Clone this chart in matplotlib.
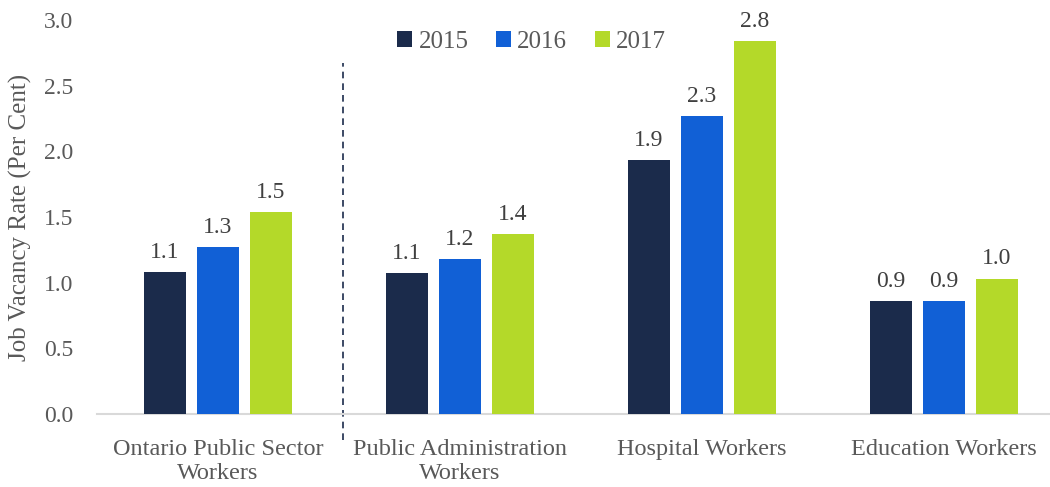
import numpy as np
import matplotlib
matplotlib.use("Agg")
import matplotlib.pyplot as plt

plt.rcParams['font.family'] = ['Liberation Serif', 'DejaVu Serif']

categories = ["Ontario Public Sector\nWorkers", "Public Administration\nWorkers",
              "Hospital Workers", "Education Workers"]
years = ["2015", "2016", "2017"]
v2015 = [1.08, 1.07, 1.93, 0.86]
v2016 = [1.27, 1.18, 2.27, 0.86]
v2017 = [1.54, 1.37, 2.84, 1.03]
labels2015 = ["1.1", "1.1", "1.9", "0.9"]
labels2016 = ["1.3", "1.2", "2.3", "0.9"]
labels2017 = ["1.5", "1.4", "2.8", "1.0"]

colors = ["#1b2b4b", "#1160d6", "#b4d929"]
grey = "#595959"

fig = plt.figure(figsize=(10.5, 4.87), dpi=100)
ax = fig.add_axes([0.0924, 0.15, 0.9076, 0.809])

x = np.arange(len(categories))
w = 0.174
step = 0.219
series = [v2015, v2016, v2017]
lbls = [labels2015, labels2016, labels2017]
for k, (vals, lab) in enumerate(zip(series, lbls)):
    pos = x + (k - 1) * step
    ax.bar(pos, vals, width=w, color=colors[k], label=years[k], zorder=3)
    for px, v, t in zip(pos, vals, lab):
        ax.text(px, v + 0.07, t, ha="center", va="bottom", fontsize=17, color="#404040")

ax.set_xlim(-0.5, 3.44)
ax.set_ylim(0, 3.0)
ax.set_yticks(np.arange(0, 3.01, 0.5))
ax.set_yticklabels([f"{t:.1f}" for t in np.arange(0, 3.01, 0.5)])
ax.set_xticks(x)
ax.set_xticklabels(categories, linespacing=1.2)
ax.tick_params(axis="y", length=0, labelsize=17, colors=grey, pad=17)
ax.tick_params(axis="x", length=0, labelsize=17.5, colors=grey, pad=18)
for s in ["top", "right", "left"]:
    ax.spines[s].set_visible(False)
ax.spines["bottom"].set_color("#d9d9d9")
ax.spines["bottom"].set_linewidth(1.5)

ax.set_ylabel("Job Vacancy Rate (Per Cent)", fontsize=18, color=grey, labelpad=9)

ax.axvline(0.517, ymin=-0.066, ymax=0.891, color="#1b2b4b", lw=1.2,
           ls=(0, (4, 3)), clip_on=False)

ax.legend(loc="upper center", bbox_to_anchor=(0.456, 1.03), ncol=3, frameon=False,
          fontsize=18, handlelength=0.6, handleheight=0.6, handletextpad=0.25,
          columnspacing=1.1, labelcolor=grey)

fig.savefig("out.png", dpi=100)
